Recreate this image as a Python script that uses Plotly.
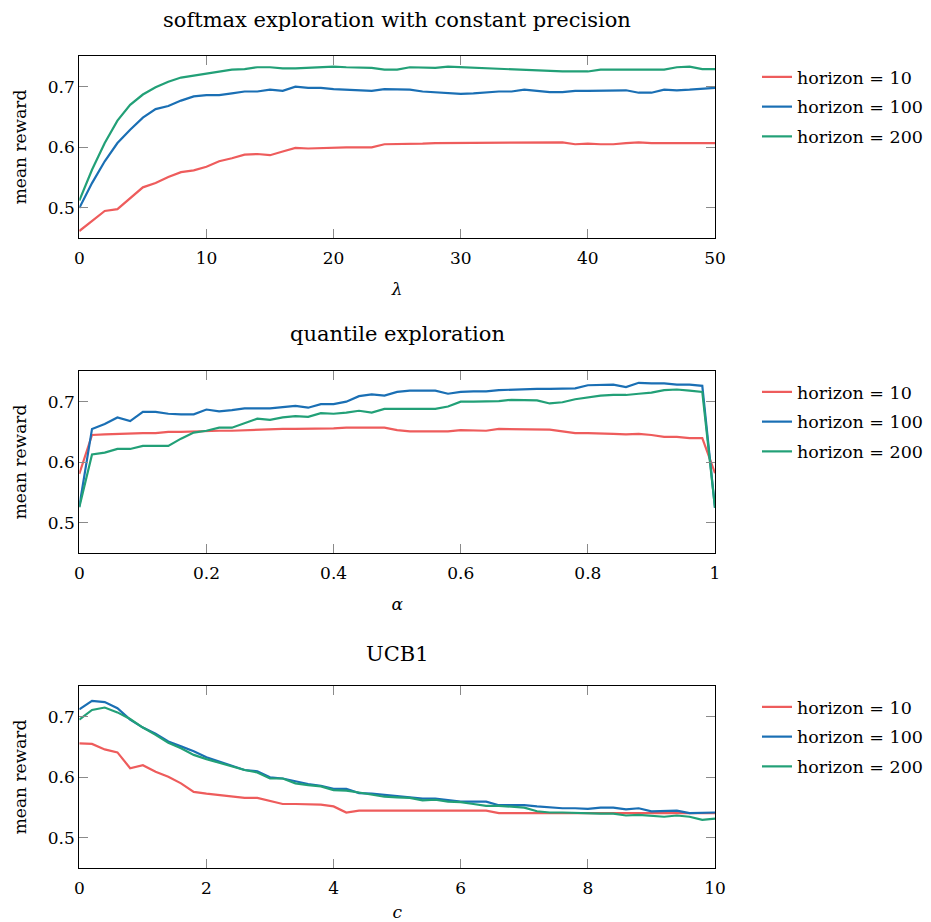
import plotly.graph_objects as go

# ---------------- data ----------------
lam = list(range(51))
soft_h10 = [0.462, 0.478, 0.495, 0.498, 0.516, 0.534, 0.541, 0.551, 0.559, 0.562, 0.568,
            0.577, 0.582, 0.588, 0.589, 0.587, 0.593, 0.599, 0.598, 0.599, 0.600,
            0.600, 0.600, 0.600, 0.605, 0.605,
            0.606, 0.606, 0.607, 0.607, 0.608,
            0.608, 0.607, 0.607, 0.607, 0.608,
            0.608, 0.608, 0.608, 0.605, 0.606,
            0.605, 0.605, 0.607, 0.608, 0.607,
            0.607, 0.607, 0.607, 0.607, 0.607]
soft_h100 = [0.500, 0.541, 0.577, 0.607, 0.629, 0.649, 0.663, 0.668, 0.677, 0.684, 0.686,
             0.686, 0.689, 0.692, 0.692, 0.695, 0.693, 0.700, 0.698, 0.698, 0.696,
             0.695, 0.694, 0.693, 0.696, 0.696,
             0.695, 0.692, 0.691, 0.690, 0.688,
             0.689, 0.691, 0.692, 0.692, 0.695,
             0.693, 0.691, 0.691, 0.693, 0.693,
             0.693, 0.694, 0.694, 0.690, 0.690,
             0.695, 0.694, 0.695, 0.696, 0.698]
soft_h200 = [0.512, 0.563, 0.607, 0.644, 0.670, 0.687, 0.699, 0.708, 0.715, 0.718, 0.722,
             0.725, 0.728, 0.729, 0.732, 0.732, 0.730, 0.730, 0.731, 0.733, 0.733,
             0.732, 0.732, 0.731, 0.728, 0.728,
             0.732, 0.732, 0.731, 0.733, 0.732,
             0.731, 0.730, 0.730, 0.729, 0.727,
             0.727, 0.726, 0.725, 0.725, 0.725,
             0.728, 0.728, 0.727, 0.727, 0.727,
             0.728, 0.732, 0.733, 0.729, 0.729]

alpha = [round(i * 0.02, 2) for i in range(51)]
quant_h10 = [0.581, 0.645, 0.646, 0.647, 0.647, 0.648, 0.648, 0.650, 0.650, 0.651, 0.652,
             0.652, 0.652, 0.653, 0.654, 0.655, 0.655, 0.655, 0.655, 0.656, 0.656,
             0.657, 0.657, 0.657, 0.657, 0.653,
             0.651, 0.651, 0.651, 0.651, 0.653, 0.652, 0.652, 0.655, 0.655, 0.655,
             0.655, 0.654, 0.651, 0.648, 0.648, 0.648, 0.647, 0.646, 0.647, 0.645,
             0.642, 0.642, 0.640, 0.640, 0.582]
quant_h100 = [0.527, 0.655, 0.663, 0.674, 0.668, 0.683, 0.683, 0.680, 0.679, 0.679, 0.687,
              0.684, 0.686, 0.689, 0.689, 0.689, 0.691, 0.693, 0.690, 0.696, 0.696,
              0.700, 0.709, 0.712, 0.710, 0.716,
              0.718, 0.718, 0.718, 0.713, 0.716, 0.717, 0.717, 0.719, 0.720, 0.720,
              0.721, 0.721, 0.722, 0.722, 0.727, 0.728, 0.728, 0.724, 0.731, 0.730,
              0.730, 0.728, 0.728, 0.726, 0.525]
quant_h200 = [0.526, 0.613, 0.616, 0.622, 0.622, 0.627, 0.627, 0.627, 0.639, 0.649, 0.652,
              0.657, 0.657, 0.664, 0.672, 0.670, 0.674, 0.676, 0.675, 0.681, 0.680,
              0.682, 0.685, 0.682, 0.688, 0.688,
              0.688, 0.687, 0.688, 0.692, 0.700, 0.700, 0.700, 0.701, 0.703, 0.702,
              0.702, 0.697, 0.699, 0.704, 0.707, 0.710, 0.711, 0.711, 0.713, 0.715,
              0.719, 0.720, 0.718, 0.716, 0.525]

c_vals = [round(i * 0.2, 1) for i in range(51)]
ucb_h10 = [0.656, 0.655, 0.646, 0.641, 0.615, 0.620, 0.609, 0.601, 0.590, 0.576, 0.573,
           0.571, 0.568, 0.566, 0.566, 0.561, 0.556, 0.556, 0.555, 0.555, 0.552,
           0.542, 0.545, 0.545, 0.545, 0.545,
           0.545, 0.545, 0.545, 0.545, 0.545, 0.545, 0.545,
           0.541, 0.541, 0.541, 0.541, 0.541, 0.541, 0.541, 0.541, 0.541,
           0.541, 0.541, 0.541, 0.541, 0.541, 0.541, 0.541, 0.541, 0.541]
ucb_h100 = [0.712, 0.726, 0.724, 0.714, 0.695, 0.682, 0.672, 0.659, 0.651, 0.643, 0.633,
            0.626, 0.619, 0.612, 0.610, 0.600, 0.598, 0.593, 0.589, 0.586, 0.581,
            0.581, 0.574, 0.573, 0.571, 0.570,
            0.567, 0.565, 0.565, 0.563, 0.560, 0.560, 0.560, 0.554, 0.554, 0.554,
            0.552, 0.550, 0.549, 0.549, 0.548, 0.550, 0.550, 0.547, 0.549, 0.544,
            0.545, 0.545, 0.541, 0.541, 0.542]
ucb_h200 = [0.695, 0.711, 0.715, 0.707, 0.696, 0.682, 0.670, 0.657, 0.648, 0.637, 0.630,
            0.624, 0.618, 0.612, 0.608, 0.598, 0.598, 0.590, 0.587, 0.585, 0.579,
            0.578, 0.575, 0.571, 0.568, 0.567,
            0.566, 0.562, 0.563, 0.560, 0.559, 0.556, 0.553, 0.553, 0.552, 0.550,
            0.544, 0.542, 0.542, 0.541, 0.540, 0.540, 0.540, 0.537, 0.538, 0.536,
            0.535, 0.537, 0.535, 0.530, 0.532]

series_names = ["horizon = 10", "horizon = 100", "horizon = 200"]
panel_titles = ["softmax exploration with constant precision", "quantile exploration", "UCB1"]
x_titles = ["<i>λ</i>", "<i>α</i>", "<i>c</i>"]
y_title = "mean reward"
y_ticks = [0.5, 0.6, 0.7]
x_ticks = [[0, 10, 20, 30, 40, 50], [0, 0.2, 0.4, 0.6, 0.8, 1], [0, 2, 4, 6, 8, 10]]
x_ticklabels = [["0", "10", "20", "30", "40", "50"],
                ["0", "0.2", "0.4", "0.6", "0.8", "1"],
                ["0", "2", "4", "6", "8", "10"]]
x_ranges = [[0, 50], [0, 1], [0, 10]]

colors = ["#EE5C5C", "#1A6FB4", "#22A077"]
FONT = "DejaVu Serif"

# the page body has an 8px margin, so the figure starts at (8, 8) on screen
OFF = 8
W, H = 923, 914

panels = [
    (lam, [soft_h10, soft_h100, soft_h200]),
    (alpha, [quant_h10, quant_h100, quant_h200]),
    (c_vals, [ucb_h10, ucb_h100, ucb_h200]),
]

# screen-pixel geometry of the three axes boxes
x_dom = [(79.3 - OFF) / W, (715.0 - OFF) / W]
box_px = [(55.7, 238.3), (370.7, 553.3), (685.7, 868.3)]
title_px = [20, 334, 654]
legend_top_px = [59, 374, 689]

fig = go.Figure()
legend_names = ["legend", "legend2", "legend3"]
for p, (xs, ys_list) in enumerate(panels):
    xa = "x" if p == 0 else f"x{p+1}"
    ya = "y" if p == 0 else f"y{p+1}"
    for s, ys in enumerate(ys_list):
        fig.add_trace(go.Scatter(
            x=xs, y=ys, mode="lines", name=series_names[s],
            line=dict(color=colors[s], width=2.2),
            xaxis=xa, yaxis=ya, legend=legend_names[p],
            legendgroup=f"p{p}s{s}", showlegend=True,
        ))

layout = dict(
    width=W, height=H,
    margin=dict(l=0, r=0, t=0, b=0, autoexpand=False),
    paper_bgcolor="white", plot_bgcolor="white",
    font=dict(family=FONT, size=17, color="black"),
    showlegend=True,
)

axis_common = dict(
    showline=True, linecolor="black", linewidth=1.3, mirror="ticks",
    ticks="inside", ticklen=9, tickcolor="#8a8a8a", tickwidth=1.2,
    showgrid=False, zeroline=False, automargin=False,
    tickfont=dict(family=FONT, size=17, color="black"),
)

annotations = []
for p in range(3):
    top, bot = box_px[p]
    y_dom = [1 - (bot - OFF) / H, 1 - (top - OFF) / H]
    xkey = "xaxis" if p == 0 else f"xaxis{p+1}"
    ykey = "yaxis" if p == 0 else f"yaxis{p+1}"
    ya = "y" if p == 0 else f"y{p+1}"
    xa = "x" if p == 0 else f"x{p+1}"
    layout[xkey] = dict(axis_common, domain=x_dom, anchor=ya, range=x_ranges[p],
                        tickvals=x_ticks[p], ticktext=x_ticklabels[p],
                        ticklabelstandoff=4,
                        title=dict(text=x_titles[p], standoff=16,
                                   font=dict(family=FONT, size=17)))
    layout[ykey] = dict(axis_common, domain=y_dom, anchor=xa, range=[0.45, 0.751],
                        tickvals=y_ticks, ticktext=["0.5", "0.6", "0.7"],
                        title=dict(text=y_title, standoff=16,
                                   font=dict(family=FONT, size=17)))
    annotations.append(dict(
        text=panel_titles[p], xref="paper", yref="paper",
        x=(x_dom[0] + x_dom[1]) / 2, y=1 - (title_px[p] - OFF) / H,
        xanchor="center", yanchor="middle", showarrow=False,
        font=dict(family=FONT, size=21, color="black"),
    ))
    lkey = legend_names[p]
    layout[lkey] = dict(
        x=(757 - OFF) / W, y=1 - (legend_top_px[p] - OFF) / H,
        xanchor="left", yanchor="top",
        bgcolor="rgba(0,0,0,0)", borderwidth=0,
        font=dict(family=FONT, size=17.5, color="black"),
        traceorder="grouped", tracegroupgap=4,
    )

layout["annotations"] = annotations
fig.update_layout(**layout)
fig.write_html("out.html")
